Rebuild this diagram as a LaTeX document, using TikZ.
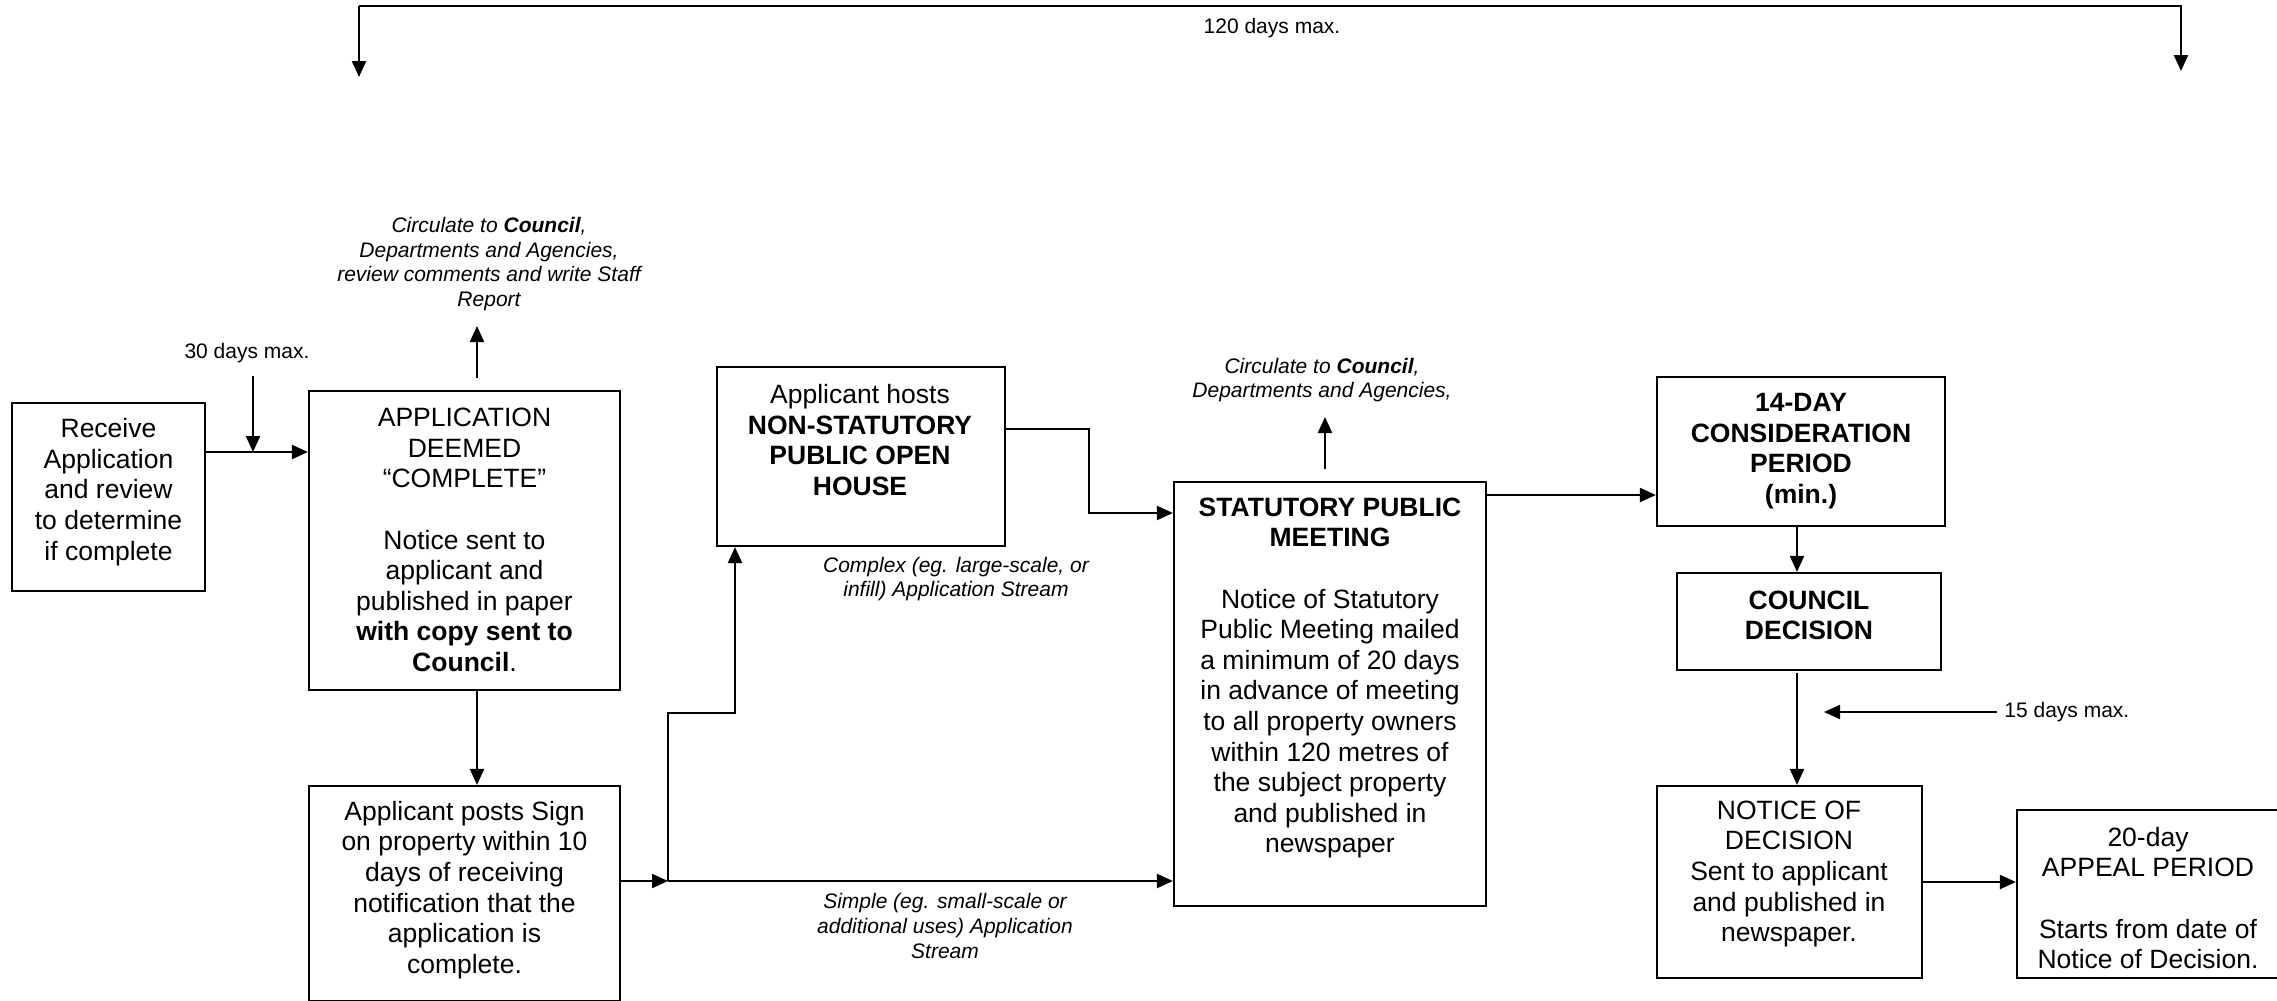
\documentclass[tikz,border=0pt]{standalone}
\usepackage{fontspec}
\setmainfont{Liberation Sans}
\usetikzlibrary{arrows.meta,fit,calc}
\begin{document}
\begin{tikzpicture}[x=0.5pt,y=-0.5pt,
  box/.style={draw,line width=1.1pt,inner sep=0pt},
  txt/.style={align=center,inner sep=0pt,font=\fontsize{13.25}{15.3}\selectfont},
  lab/.style={inner sep=0pt,font=\fontsize{10.5}{12.3}\selectfont},
  ital/.style={align=center,inner sep=0pt,font=\fontsize{10.5}{12.3}\selectfont\itshape},
  arr/.style={line width=1.1pt,-{Triangle[length=8pt,width=7pt]}}
]
\useasboundingbox (0,0) rectangle (2277,1001);
\clip (0,0) rectangle (2277,1001);

% boxes
\node[box,fit={(12,403)(205,591)}] (receive) {};
\node[txt] (receivetxt) at (108.5,492) {Receive\\Application\\and review\\to determine\\if complete};

\node[box,fit={(309,391)(620,690)}] (app) {};
\node[txt] (apptxt) at (464.5,540) {APPLICATION\\DEEMED\\“COMPLETE”\\[15.3pt]Notice sent to\\applicant and\\published in paper\\\textbf{with copy sent to}\\\textbf{Council}.};

\node[box,fit={(309,786)(620,1001)}] (sign) {};
\node[txt] (signtxt) at (464.5,890) {Applicant posts Sign\\on property within 10\\days of receiving\\notification that the\\application is\\complete.};

\node[box,fit={(717,367)(1005,546)}] (open) {};
\node[txt] (opentxt) at (860,440) {Applicant hosts\\\textbf{NON-STATUTORY}\\\textbf{PUBLIC OPEN}\\\textbf{HOUSE}};

\node[box,fit={(1174,482)(1486,906)}] (stat) {};
\node[txt] (stattxt) at (1330,678) {\textbf{STATUTORY PUBLIC}\\\textbf{MEETING}\\[15.3pt]Notice of Statutory\\Public Meeting mailed\\a minimum of 20 days\\in advance of meeting\\to all property owners\\within 120 metres of\\the subject property\\and published in\\newspaper};

\node[box,fit={(1657,377)(1945,526)}] (consid) {};
\node[txt] (considtxt) at (1801,451) {\textbf{14-DAY}\\\textbf{CONSIDERATION}\\\textbf{PERIOD}\\\textbf{(min.)}};

\node[box,fit={(1677,573)(1941,670)}] (council) {};
\node[txt] (counciltxt) at (1809,615.5) {\textbf{COUNCIL}\\\textbf{DECISION}};

\node[box,fit={(1657,786)(1922,978)}] (notice) {};
\node[txt] (noticetxt) at (1789,874) {NOTICE OF\\DECISION\\Sent to applicant\\and published in\\newspaper.};

\node[box,fit={(2017,810)(2280,978)}] (appeal) {};
\node[txt] (appealtxt) at (2148,898) {20-day\\APPEAL PERIOD\\[15.3pt]Starts from date of\\Notice of Decision.};

% labels
\node[lab] (l30) at (247,353) {30 days max.};
\node[lab] (l120) at (1272,28) {120 days max.};
\node[lab,anchor=west] (l15) at (2004,712) {15 days max.};
\node[ital] (circ1) at (489,264) {Circulate to \textbf{Council},\\Departments and Agencies,\\review comments and write Staff\\Report};
\node[ital] (circ2) at (1322,380) {Circulate to \textbf{Council},\\Departments and Agencies,};
\node[ital] (complex) at (956,579) {Complex (eg. large-scale, or\\infill) Application Stream};
\node[ital] (simple) at (945,926) {Simple (eg. small-scale or\\additional uses) Application\\Stream};

% coordinates
\coordinate (y452) at (0,452);
\coordinate (t30) at (253,376);
\coordinate (c1tip) at (477,326);
\coordinate (c2tip) at (1325,417);
\coordinate (jn) at (668,881);
\coordinate (cx) at (735,713);
\coordinate (oc1) at (1089,429);
\coordinate (oc2) at (1089,513);
\coordinate (y495) at (0,495);
\coordinate (x1797) at (1797,0);
\coordinate (t15) at (1997,712);
\coordinate (h15) at (1824,712);
\coordinate (y882) at (0,882);
\coordinate (topL) at (359,6);
\coordinate (topR) at (2181,6);
\coordinate (bl) at (359,77);
\coordinate (br) at (2181,71);

% connectors
\draw[arr] (receive.east |- y452) -- (app.west |- y452);
\draw[arr] (t30) -- (t30 |- y452);
\draw[arr] ($(app.north -| c1tip)+(0,-12)$) -- (c1tip);
\draw[arr] (app.south -| c1tip) -- (sign.north -| c1tip);
\draw[arr] (sign.east |- jn) -- (jn);
\draw[arr] (jn) -- (stat.west |- jn);
\draw[arr] (jn) -- (jn |- cx) -- (cx) -- (open.south -| cx);
\draw[arr] (open.east |- oc1) -- (oc1) -- (oc2) -- (stat.west |- oc2);
\draw[arr] ($(stat.north -| c2tip)+(0,-12)$) -- (c2tip);
\draw[arr] (stat.east |- y495) -- (consid.west |- y495);
\draw[arr] (consid.south -| x1797) -- (council.north -| x1797);
\draw[arr] ($(council.south -| x1797)+(0,2)$) -- (notice.north -| x1797);
\draw[arr] (t15) -- (h15);
\draw[arr] (notice.east |- y882) -- (appeal.west |- y882);
\draw[arr] (topL) -- (bl);
\draw[arr] (topL) -- (topR) -- (br);
\end{tikzpicture}
\end{document}
